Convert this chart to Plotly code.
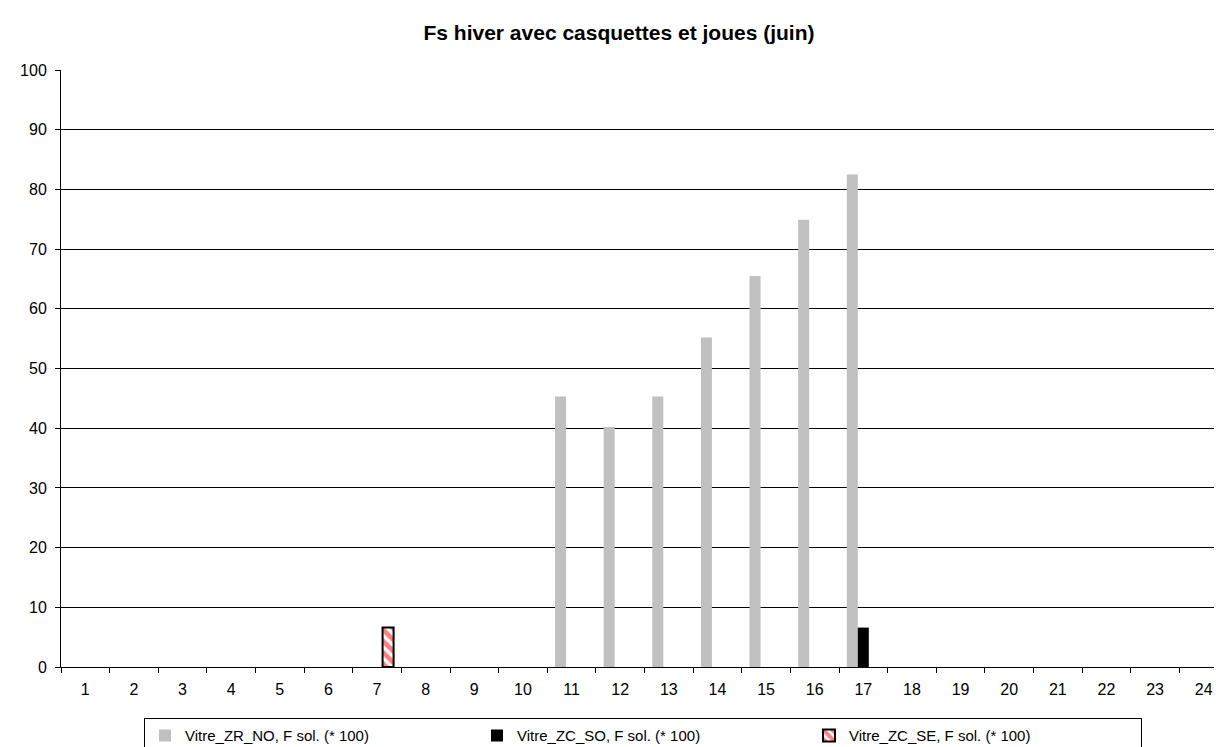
import plotly.graph_objects as go

hours = [str(h) for h in range(1, 25)]
zr_no = [0, 0, 0, 0, 0, 0, 0, 0, 0, 0, 45.3, 40.2, 45.3, 55.2, 65.5, 74.9, 82.5, 0, 0, 0, 0, 0, 0, 0]
zc_so = [0, 0, 0, 0, 0, 0, 0, 0, 0, 0, 0, 0, 0, 0, 0, 0, 6.6, 0, 0, 0, 0, 0, 0, 0]
zc_se = [0, 0, 0, 0, 0, 0, 6.6, 0, 0, 0, 0, 0, 0, 0, 0, 0, 0, 0, 0, 0, 0, 0, 0, 0]
names = ["Vitre_ZR_NO, F sol. (* 100)", "Vitre_ZC_SO, F sol. (* 100)", "Vitre_ZC_SE, F sol. (* 100)"]
title = "Fs hiver avec casquettes et joues (juin)"
y_ticks = list(range(0, 101, 10))

FONT = "Liberation Sans, Arial, sans-serif"

fig = go.Figure()
fig.add_trace(go.Bar(x=hours, y=zr_no, name=names[0], marker=dict(color="#C0C0C0", line=dict(width=0))))
fig.add_trace(go.Bar(x=hours, y=zc_so, name=names[1], marker=dict(color="#000000", line=dict(width=0))))
fig.add_trace(go.Bar(
    x=hours, y=[v if v else None for v in zc_se], name=names[2],
    marker=dict(color="#FFFFFF", line=dict(color="#000000", width=2),
                pattern=dict(shape="\\", fgcolor="#FF0000", bgcolor="#FFFFFF", size=8, solidity=0.6)),
))

fig.update_layout(
    width=1222, height=747,
    margin=dict(l=53, r=2, t=62, b=80),
    paper_bgcolor="white", plot_bgcolor="white",
    barmode="group", bargap=0.32, bargroupgap=0,
    font=dict(family=FONT, size=15, color="black"),
    title=dict(text="<b>" + title + "</b>", x=0.5, xref="container", xanchor="center",
               y=1 - 25 / 747, yref="container", yanchor="middle",
               font=dict(family=FONT, size=21, color="black")),
    showlegend=True,
    legend=dict(orientation="h", x=(136 - 53) / 1167, xanchor="left", y=-52 / 605, yanchor="top",
                bordercolor="#000000", borderwidth=1, bgcolor="white",
                font=dict(family=FONT, size=15, color="black"),
                entrywidth=287, entrywidthmode="pixels", traceorder="normal"),
    xaxis=dict(type="category", categoryorder="array", categoryarray=hours,
               tickson="boundaries", ticks="outside", ticklen=5, tickcolor="#000000",
               showline=True, linecolor="#000000", linewidth=1, showgrid=False,
               ticklabelstandoff=8,
               tickfont=dict(family=FONT, size=16, color="black")),
    yaxis=dict(range=[0, 100], tickvals=y_ticks, ticks="outside", ticklen=5, tickcolor="#000000",
               showline=True, linecolor="#000000", linewidth=1,
               showgrid=True, gridcolor="#000000", gridwidth=1, zeroline=False,
               ticklabelstandoff=5,
               tickfont=dict(family=FONT, size=16, color="black")),
)
fig.add_shape(type="line", xref="paper", yref="paper", x0=1, x1=1, y0=0, y1=1,
              line=dict(color="#808080", width=1))

fig.write_html("out.html")
